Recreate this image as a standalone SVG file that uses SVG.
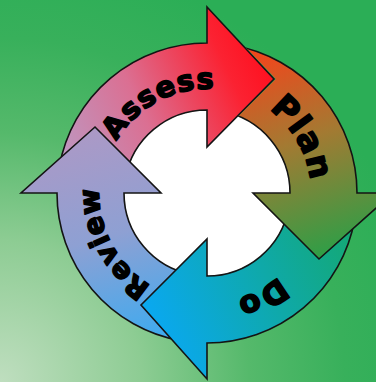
<svg xmlns="http://www.w3.org/2000/svg" xmlns:xlink="http://www.w3.org/1999/xlink" width="376" height="382" viewBox="0 0 376 382">
  <defs>
    <radialGradient id="bg" gradientUnits="userSpaceOnUse" cx="0" cy="382" r="430">
      <stop offset="0" stop-color="#bfdebf"/>
      <stop offset="0.33" stop-color="#8dcc93"/>
      <stop offset="0.58" stop-color="#55b96b"/>
      <stop offset="0.8" stop-color="#38b05b"/>
      <stop offset="1" stop-color="#2bae56"/>
    </radialGradient>
    <linearGradient id="gA" gradientUnits="userSpaceOnUse" x1="60" y1="160" x2="275" y2="60">
      <stop offset="0" stop-color="#bd98c2"/>
      <stop offset="0.4" stop-color="#db6f92"/>
      <stop offset="0.8" stop-color="#fb2232"/>
      <stop offset="1" stop-color="#ff0d1c"/>
    </linearGradient>
    <linearGradient id="gP" gradientUnits="userSpaceOnUse" x1="250" y1="55" x2="320" y2="260">
      <stop offset="0" stop-color="#f2461c"/>
      <stop offset="0.45" stop-color="#a37a32"/>
      <stop offset="1" stop-color="#2c9f47"/>
    </linearGradient>
    <linearGradient id="gD" gradientUnits="userSpaceOnUse" x1="350" y1="220" x2="150" y2="310">
      <stop offset="0" stop-color="#14a872"/>
      <stop offset="0.45" stop-color="#0fa9a8"/>
      <stop offset="1" stop-color="#0aa8ee"/>
    </linearGradient>
    <linearGradient id="gR" gradientUnits="userSpaceOnUse" x1="150" y1="335" x2="95" y2="130">
      <stop offset="0" stop-color="#42aaee"/>
      <stop offset="0.5" stop-color="#8ea0d3"/>
      <stop offset="1" stop-color="#ab99c6"/>
    </linearGradient>
    <clipPath id="clipPlan">
      <path clip-rule="evenodd" d="M0 0H376V382H0Z M206 5.5 L275.8 79 L206 148.5 Z"/>
    </clipPath>
    <path id="tA" d="M103.06 189.37 A104 104 0 0 1 262.11 104.8"/>
    <path id="tP" d="M207 89 A104 104 0 0 1 297.07 245"/>
    <path id="tD" d="M316.93 196.84 A110 110 0 0 1 148.71 286.29"/>
    <path id="tR" d="M203.23 300.93 A108 108 0 0 1 115.41 135.77"/>
  </defs>
  <style>
    .arrow { stroke: #141414; stroke-width: 1.6; stroke-linejoin: miter; }
    .lbl { font-family: "DejaVu Sans", "Liberation Sans", sans-serif; font-weight: bold; fill: #000; stroke: #000; stroke-width: 1.6; stroke-linejoin: round; }
  </style>
  <rect width="376" height="382" fill="url(#bg)"/>
  <circle cx="207" cy="193" r="83" fill="#ffffff"/>

  <g id="assess">
    <path class="arrow" fill="url(#gA)" d="M59.28 166.95 A150 150 0 0 1 207 43 L207 7 L274 79 L207 147 L207 110 A83 83 0 0 0 125.26 178.59 Z"/>
    <text class="lbl" font-size="29" letter-spacing="1"><textPath href="#tA" startOffset="50%" text-anchor="middle">Assess</textPath></text>
  </g>

  <g id="review">
    <path class="arrow" fill="url(#gR)" d="M180.95 340.72 A150 150 0 0 1 57 193 L21 193 L95 127 L161 193 L124 193 A83 83 0 0 0 192.59 274.74 Z"/>
    <text class="lbl" font-size="28" letter-spacing="0.5"><textPath href="#tR" startOffset="50%" text-anchor="middle">Review</textPath></text>
  </g>

  <g id="do">
    <path class="arrow" fill="url(#gD)" d="M354.72 219.05 A150 150 0 0 1 207 343 L207 379 L141 305 L207 239 L207 276 A83 83 0 0 0 288.74 207.41 Z"/>
    <text class="lbl" font-size="31" letter-spacing="1"><textPath href="#tD" startOffset="50%" text-anchor="middle">Do</textPath></text>
  </g>

  <g id="plan">
    <path class="arrow" fill="url(#gP)" clip-path="url(#clipPlan)" d="M233.05 45.28 A150 150 0 0 1 357 193 L393 193 L319 259 L253 193 L290 193 A83 83 0 0 0 221.41 111.26 Z"/>
    <text class="lbl" font-size="33" letter-spacing="1"><textPath href="#tP" startOffset="50%" text-anchor="middle">Plan</textPath></text>
  </g>

  <g id="connectors"/>
</svg>
